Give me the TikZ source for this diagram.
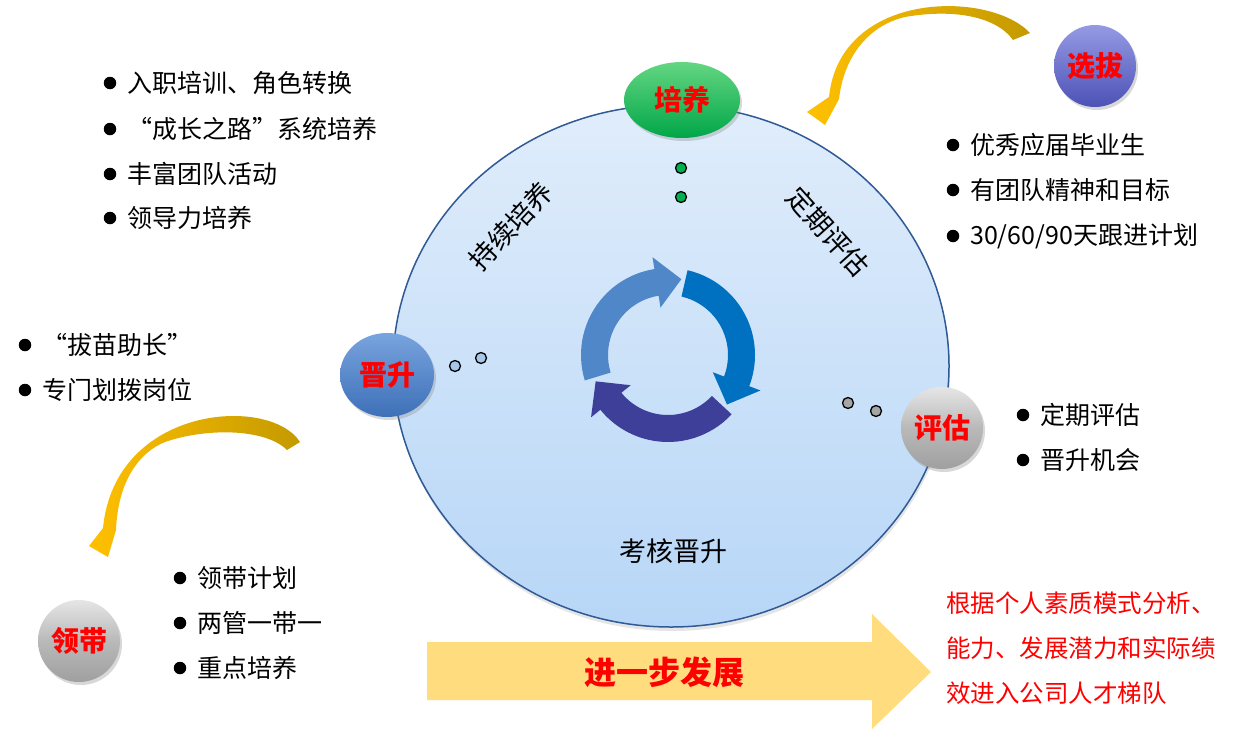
\documentclass[tikz,border=0pt]{standalone}
\usepackage{fontspec}
\setmainfont{Noto Sans CJK SC}
\usetikzlibrary{shapes.geometric,shadows}
\definecolor{ringL}{HTML}{4F87C9}
\definecolor{ringM}{HTML}{0070C0}
\definecolor{ringD}{HTML}{3D3F99}
\definecolor{circTop}{HTML}{E0EDFB}
\definecolor{circBot}{HTML}{B7D6F7}
\definecolor{circLine}{HTML}{2F5A96}
\definecolor{arrowY}{HTML}{FFDD7F}
\definecolor{goldA}{HTML}{FFC000}
\definecolor{goldB}{HTML}{C49A00}
\definecolor{dotG}{HTML}{00B050}
\definecolor{dotB}{HTML}{A9C6EA}
\definecolor{dotS}{HTML}{A6A6A6}
\tikzset{
  lbl/.style={font=\bfseries\fontsize{28}{30}\selectfont, text=red},
  ballshadow/.style={drop shadow={opacity=0.3, shadow xshift=2pt, shadow yshift=-3pt}},
  ball/.style={circle, inner sep=0pt, minimum size=82pt, lbl, ballshadow},
  grayball/.style={ball, top color=gray!20, bottom color=gray!75, middle color=gray!55},
  dotnode/.style={circle, draw=black, line width=1.3pt, inner sep=0pt, minimum size=11pt},
  bul/.style={circle, fill=black, inner sep=0pt, minimum size=12.5pt},
  item/.style={anchor=west, inner sep=0pt, font=\fontsize{25}{30}\selectfont},
  reditem/.style={anchor=west, inner sep=0pt, font=\fontsize{24.5}{30}\selectfont, text=red},
  rtext/.style={inner sep=0pt, font=\fontsize{27}{30}\selectfont},
}
\begin{document}
\begin{tikzpicture}[x=1pt, y=-1pt]
\fill[white] (0,0) rectangle (1260,731);
\useasboundingbox (0,0) rectangle (1260,731);

% big circle
\node[ellipse, inner sep=0pt, minimum width=556pt, minimum height=522pt,
      top color=circTop, bottom color=circBot, draw=circLine, line width=1.5pt,
      drop shadow={opacity=0.2, shadow xshift=1pt, shadow yshift=-4pt}] (cyc) at (671,366) {};

% cycle arrows
\begin{scope}[shift={(668,355)}]
  \foreach \a/\c in {163/ringL, 283/ringM, 403/ringD}{
    \pgfmathsetmacro{\b}{\a+98}
    \pgfmathsetmacro{\t}{\a+117}
    \fill[\c] (\a:87) arc[start angle=\a, end angle=\b, radius=87]
      -- (\b:99) -- (\t:77) -- (\b:48) -- (\b:60)
      arc[start angle=\b, end angle=\a, radius=60] -- cycle;
  }
\end{scope}

% rotated / inner texts
\node[rtext, rotate=47] (t1) at (511,226) {持续培养};
\node[rtext, rotate=-48] (t2) at (828,232) {定期评估};
\node[rtext] (t3) at (673,551) {考核晋升};

% stage nodes
\node[ellipse, inner sep=0pt, minimum width=116pt, minimum height=76pt, lbl, ballshadow,
      top color={rgb,255:red,100;green,214;blue,130}, bottom color={rgb,255:red,0;green,166;blue,72}] (py) at (682,100) {培养};
\node[ball, top color={rgb,255:red,150;green,154;blue,228}, bottom color={rgb,255:red,76;green,82;blue,182}] (xb) at (1095,66) {选拔};
\node[ellipse, inner sep=0pt, minimum width=94pt, minimum height=84pt, lbl, ballshadow,
      top color={rgb,255:red,120;green,164;blue,222}, bottom color={rgb,255:red,62;green,112;blue,184}] (js) at (387,375) {晋升};
\node[grayball] (pg) at (942,428) {评估};
\node[grayball] (ld) at (79,641) {领带};

% small dots
\node[dotnode, fill=dotG] (g1) at (681,168) {};
\node[dotnode, fill=dotG] (g2) at (681,197) {};
\node[dotnode, fill=dotB] (b1) at (455,366) {};
\node[dotnode, fill=dotB] (b2) at (481,358) {};
\node[dotnode, fill=dotS] (s1) at (848,403) {};
\node[dotnode, fill=dotS] (s2) at (876,411) {};

% curved yellow arrows
\shade[left color=goldA, right color=goldB]
  (1030,33) .. controls (990,-10) and (840,-10) .. (829,97)
  -- (807,112) -- (825,125) -- (839,99)
  .. controls (844,55) and (870,25) .. (905,17)
  .. controls (950,9) and (995,15) .. (1013,40) -- cycle;
\shade[left color=goldA, right color=goldB]
  (300,442) .. controls (270,395) and (115,405) .. (103,528)
  -- (89,546) -- (108,557) -- (116,530)
  .. controls (118,480) and (140,452) .. (165,442)
  .. controls (205,428) and (265,428) .. (287,450) -- cycle;

% bottom arrow
\fill[arrowY] (427,642) -- (872,642) -- (872,614) -- (931,672) -- (872,729) -- (872,700) -- (427,700) -- cycle;
\node[font=\bfseries\fontsize{32}{34}\selectfont, text=red, inner sep=0pt] (fz) at (664,672) {进一步发展};

% lists
\foreach \n/\y/\txt in {a1/83/入职培训、角色转换, a2/129/“成长之路”系统培养, a3/174/丰富团队活动, a4/218/领导力培养}{
  \node[bul] (\n b) at (110,\y) {};
  \node[item] (\n) at (127,\y) {\txt};
}
\foreach \n/\y/\txt in {c1/345/“拔苗助长”, c2/390/专门划拨岗位}{
  \node[bul] (\n b) at (25,\y) {};
  \node[item] (\n) at (42,\y) {\txt};
}
\foreach \n/\y/\txt in {d1/145/{优秀应届毕业生}, d2/190/{有团队精神和目标}, d3/236/{30/60/90天跟进计划}}{
  \node[bul] (\n b) at (953,\y) {};
  \node[item] (\n) at (970,\y) {\txt};
}
\foreach \n/\y/\txt in {e1/415/定期评估, e2/460/晋升机会}{
  \node[bul] (\n b) at (1023,\y) {};
  \node[item] (\n) at (1040,\y) {\txt};
}
\foreach \n/\y/\txt in {f1/578/领带计划, f2/623/两管一带一, f3/668/重点培养}{
  \node[bul] (\n b) at (180,\y) {};
  \node[item] (\n) at (197,\y) {\txt};
}
\node[reditem] (r1) at (946,603) {根据个人素质模式分析、};
\node[reditem] (r2) at (946,648) {能力、发展潜力和实际绩};
\node[reditem] (r3) at (946,693) {效进入公司人才梯队};
\end{tikzpicture}
\end{document}
